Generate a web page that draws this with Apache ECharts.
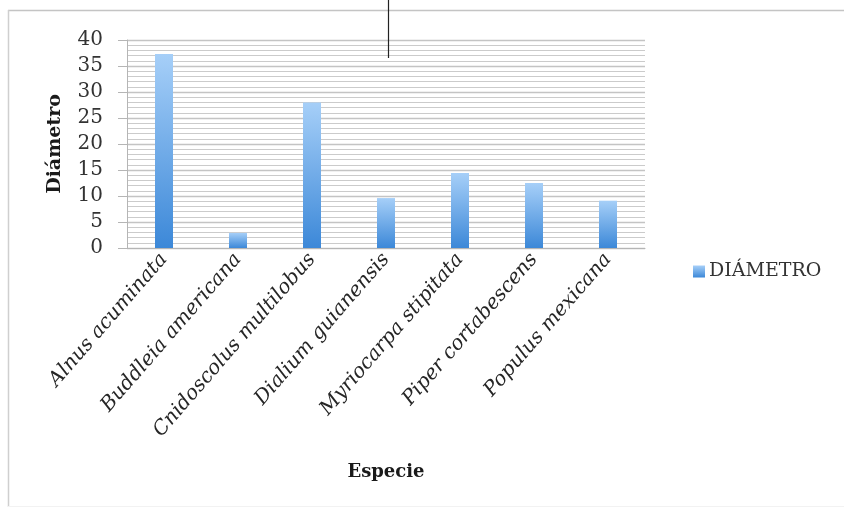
<!DOCTYPE html>
<html>
<head>
<meta charset="utf-8">
<script src="https://cdn.jsdelivr.net/npm/echarts@6/dist/echarts.min.js"></script>
<style>
  html, body { margin: 0; padding: 0; background: #fff; }
  #chart { width: 844px; height: 514px; }
</style>
</head>
<body>
<div id="chart"></div>
<script>
// Species and their measured diameter
const species = [
  'Alnus acuminata',
  'Buddleia americana',
  'Cnidoscolus multilobus',
  'Dialium guianensis',
  'Myriocarpa stipitata',
  'Piper cortabescens',
  'Populus mexicana'
];
const diametro = [37.3, 2.9, 28.0, 9.6, 14.4, 12.5, 9.1];
const seriesName = 'DIÁMETRO';
const yTicks = [0, 5, 10, 15, 20, 25, 30, 35, 40];

const serif = '"DejaVu Serif", "Liberation Serif", serif';
const chart = echarts.init(document.getElementById('chart'), null, { renderer: 'canvas' });

chart.setOption({
  backgroundColor: '#ffffff',
  animation: false,
  grid: { left: 127, right: 199, top: 40, bottom: 266, containLabel: false },
  legend: {
    data: [seriesName],
    left: 688, top: 257,
    icon: 'rect', itemWidth: 12, itemHeight: 12, itemGap: 6,
    textStyle: { fontFamily: serif, fontSize: 19, color: '#333', padding: [0, 0, 0, -1] }
  },
  xAxis: {
    type: 'category',
    data: species,
    name: 'Especie',
    nameLocation: 'middle',
    nameGap: 215,
    nameTextStyle: { fontFamily: serif, fontSize: 18, fontWeight: 'bold', color: '#1a1a1a' },
    axisLine: { show: true, lineStyle: { color: '#b5b5b5', width: 1 } },
    axisTick: { show: false },
    axisLabel: {
      interval: 0, rotate: 49, margin: 8,
      fontFamily: serif, fontStyle: 'italic', fontSize: 20, color: '#262626'
    }
  },
  yAxis: {
    type: 'value',
    min: 0, max: yTicks[yTicks.length - 1], interval: 5,
    name: 'Diámetro',
    nameLocation: 'middle',
    nameGap: 62,
    nameTextStyle: { fontFamily: serif, fontSize: 19, fontWeight: 'bold', color: '#1a1a1a' },
    axisLine: { show: true, lineStyle: { color: '#b5b5b5', width: 1 } },
    axisTick: { show: true, length: 9, lineStyle: { color: '#b5b5b5' } },
    axisLabel: { fontFamily: serif, fontSize: 20, color: '#333', margin: 24 },
    splitLine: { show: true, lineStyle: { color: '#c4c4c4', width: 1.4 } },
    minorTick: { show: false, splitNumber: 5 },
    minorSplitLine: { show: true, lineStyle: { color: '#cbcbcb', width: 1.2 } }
  },
  series: [{
    name: seriesName,
    type: 'bar',
    data: diametro,
    barWidth: 18,
    itemStyle: {
      color: new echarts.graphic.LinearGradient(0, 0, 0, 1, [
        { offset: 0, color: '#a6cff8' },
        { offset: 1, color: '#3c88d8' }
      ])
    }
  }],
  graphic: [
    // outer frame of the chart area
    { type: 'line', z: 100, shape: { x1: 8, y1: 10.5, x2: 844, y2: 10.5 }, style: { stroke: '#c4c4c4', lineWidth: 1.5 } },
    { type: 'line', z: 100, shape: { x1: 8.5, y1: 10, x2: 8.5, y2: 507 }, style: { stroke: '#cfcfcf', lineWidth: 1.5 } },
    { type: 'line', z: 100, shape: { x1: 8, y1: 506.5, x2: 844, y2: 506.5 }, style: { stroke: '#f2f2f2', lineWidth: 1 } },
    // thin dark marker line at the top
    { type: 'line', z: 100, shape: { x1: 388.5, y1: 0, x2: 388.5, y2: 58 }, style: { stroke: '#222', lineWidth: 1.2 } }
  ]
});
</script>
</body>
</html>
